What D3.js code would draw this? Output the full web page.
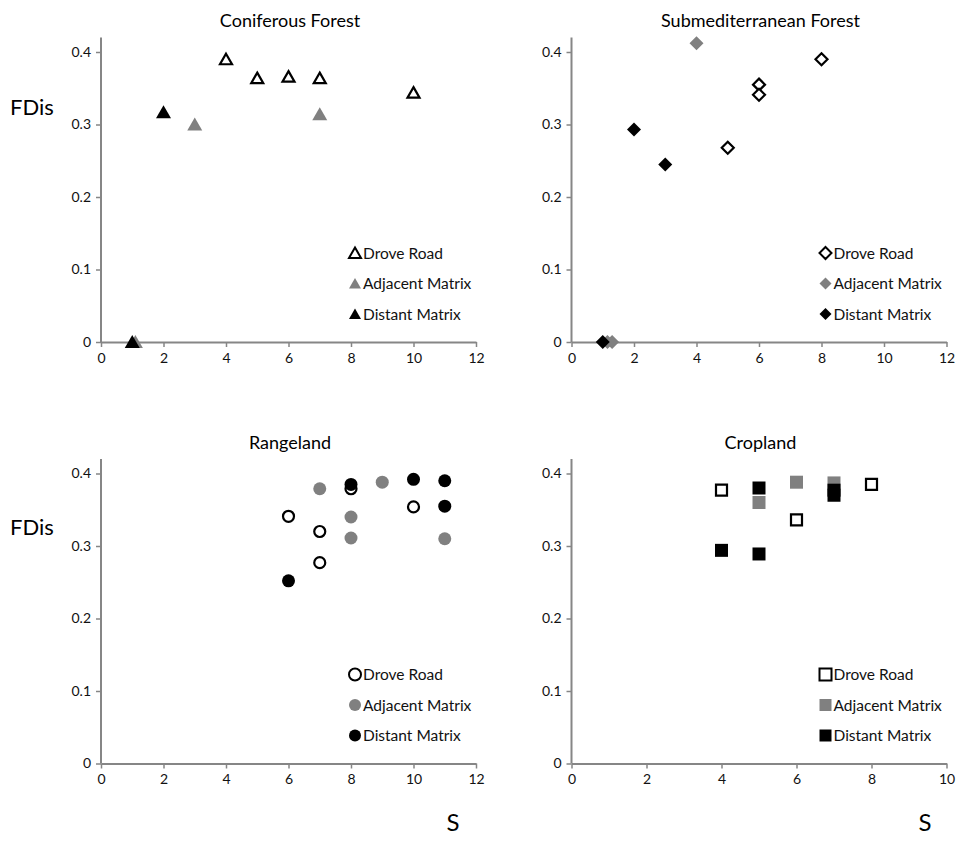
<!DOCTYPE html>
<html><head><meta charset="utf-8">
<script src="https://cdn.jsdelivr.net/npm/d3@7"></script>
<style>
body{margin:0;background:#fff;}
text{font-family:"Lato","Open Sans",sans-serif;}
</style></head>
<body><svg id="chart" width="963" height="841"></svg>
<script>
// ---- data ----
const panels = ["Coniferous Forest","Submediterranean Forest","Rangeland","Cropland"];
const seriesNames = ["Drove Road","Adjacent Matrix","Distant Matrix"];
const yTicks = [0,0.1,0.2,0.3,0.4];
const xTicksWide = [0,2,4,6,8,10,12];
const xTicksNarrow = [0,2,4,6,8,10];

// Coniferous Forest
const conDroveS = [4,5,6,7,10];
const conDroveF = [0.390,0.364,0.366,0.364,0.344];
const conAdjS = [1.1,3,7];
const conAdjF = [0,0.300,0.314];
const conDistS = [1,2];
const conDistF = [0,0.317];
// Submediterranean Forest
const subDroveS = [5,6,6,8];
const subDroveF = [0.268,0.355,0.341,0.390];
const subAdjS = [1.15,1.3,4];
const subAdjF = [0,0,0.412];
const subDistS = [1,2,3];
const subDistF = [0,0.293,0.245];
// Rangeland
const ranDroveS = [6,7,7,8,10];
const ranDroveF = [0.341,0.320,0.277,0.379,0.354];
const ranAdjS = [7,8,8,9,11];
const ranAdjF = [0.379,0.340,0.311,0.388,0.310];
const ranDistS = [6,8,10,11,11];
const ranDistF = [0.252,0.385,0.392,0.390,0.355];
// Cropland
const croDroveS = [4,6,8];
const croDroveF = [0.377,0.336,0.385];
const croAdjS = [5,6,7];
const croAdjF = [0.360,0.388,0.387];
const croDistS = [4,5,5,7,7];
const croDistF = [0.294,0.289,0.380,0.377,0.370];

const zip = (s,f)=>s.map((v,i)=>({s:v,f:f[i]}));
const panelData = [
  {title:panels[0], shape:"triangle", xMax:12, xTicks:xTicksWide,
   series:[zip(conDroveS,conDroveF),zip(conAdjS,conAdjF),zip(conDistS,conDistF)]},
  {title:panels[1], shape:"diamond", xMax:12, xTicks:xTicksWide,
   series:[zip(subDroveS,subDroveF),zip(subAdjS,subAdjF),zip(subDistS,subDistF)]},
  {title:panels[2], shape:"circle", xMax:12, xTicks:xTicksWide,
   series:[zip(ranDroveS,ranDroveF),zip(ranAdjS,ranAdjF),zip(ranDistS,ranDistF)]},
  {title:panels[3], shape:"square", xMax:10, xTicks:xTicksNarrow,
   series:[zip(croDroveS,croDroveF),zip(croAdjS,croAdjF),zip(croDistS,croDistF)]}
];

// ---- styling ----
const fills = ["#ffffff","#808080","#000000"];
const strokes = ["#000000","none","none"];
const axisColor = "#868686";

function shapePath(shape){
  switch(shape){
    case "triangle": return "M0,-7L7.5,6L-7.5,6Z";
    case "diamond": return "M0,-7L7,0L0,7L-7,0Z";
    case "circle": return "M6.5,0A6.5,6.5 0 1,1 -6.5,0A6.5,6.5 0 1,1 6.5,0Z";
    case "square": return "M-6.5,-6.5H6.5V6.5H-6.5Z";
  }
}
function shapePathOpen(shape){
  switch(shape){
    case "triangle": return "M0,-5.5L6,5L-6,5Z";
    case "diamond": return "M0,-6L6,0L0,6L-6,0Z";
    case "circle": return "M5.5,0A5.5,5.5 0 1,1 -5.5,0A5.5,5.5 0 1,1 5.5,0Z";
    case "square": return "M-5.5,-5.5H5.5V5.5H-5.5Z";
  }
}
function legendPath(shape){
  switch(shape){
    case "triangle": return "M0,-5.5L6,5L-6,5Z";
    case "diamond": return "M0,-6L6,0L0,6L-6,0Z";
    case "circle": return "M6,0A6,6 0 1,1 -6,0A6,6 0 1,1 6,0Z";
    case "square": return "M-6,-6H6V6H-6Z";
  }
}

const svg = d3.select("#chart");
const origins = [{x:101,y:342},{x:571.5,y:342},{x:101,y:763.5},{x:571.5,y:763.5}];
const plotW = 375, plotH0 = 290; // height for 0..0.4
const titleY = [27,27,449,449];

panelData.forEach((p,i)=>{
  const o = origins[i];
  const x = d3.scaleLinear().domain([0,p.xMax]).range([o.x,o.x+plotW]);
  const y = d3.scaleLinear().domain([0,0.4]).range([o.y,o.y-plotH0]);
  const g = svg.append("g");

  // y axis
  const ya = g.append("g").attr("transform",`translate(${o.x},0)`)
    .call(d3.axisLeft(y).tickValues(yTicks).tickSize(5).tickSizeOuter(0)
      .tickFormat(d=>d===0?"0":d3.format(".1f")(d)));
  ya.select(".domain").remove();
  ya.append("line").attr("x1",0).attr("x2",0).attr("y1",y(0)).attr("y2",y(0.42))
    .attr("stroke",axisColor).attr("stroke-width",2);
  ya.selectAll(".tick line").attr("stroke",axisColor).attr("stroke-width",1.5);
  ya.selectAll(".tick text").attr("x",-10).attr("fill","#111").style("font-size","14px")
    .style("font-family","Lato,sans-serif");

  // x axis
  const xa = g.append("g").attr("transform",`translate(0,${o.y})`)
    .call(d3.axisBottom(x).tickValues(p.xTicks).tickSize(5).tickSizeOuter(0));
  xa.select(".domain").attr("stroke",axisColor).attr("stroke-width",2);
  xa.selectAll(".tick line").attr("stroke",axisColor).attr("stroke-width",1.5);
  xa.selectAll(".tick text").attr("y",11).attr("fill","#111").style("font-size","14px")
    .style("font-family","Lato,sans-serif");

  // title
  g.append("text").attr("x",o.x+189).attr("y",titleY[i]).attr("text-anchor","middle")
    .style("font-size","18px").attr("fill","#000").text(p.title);

  // points
  p.series.forEach((ser,si)=>{
    g.append("g").selectAll("path").data(ser).join("path")
      .attr("transform",d=>`translate(${x(d.s)},${y(d.f)})`)
      .attr("d", si===0 ? shapePathOpen(p.shape) : shapePath(p.shape))
      .attr("fill",fills[si])
      .attr("stroke",strokes[si])
      .attr("stroke-width",si===0?2.2:0);
  });

  // legend
  const lx = o.x + 254, ly0 = o.y - 89;
  seriesNames.forEach((name,si)=>{
    const yy = ly0 + si*30.5;
    g.append("path").attr("transform",`translate(${lx},${yy})`)
      .attr("d",legendPath(p.shape))
      .attr("fill",fills[si]).attr("stroke",strokes[si]).attr("stroke-width",si===0?2:0);
    g.append("text").attr("x",lx+8).attr("y",yy+5.5).style("font-size","15.5px")
      .attr("fill","#111").text(name);
  });
});

// FDis labels
[107,527].forEach(yy=>{
  svg.append("text").attr("x",32).attr("y",yy+8).attr("text-anchor","middle")
    .style("font-size","22px").attr("fill","#000").text("FDis");
});
// S labels
[453,925].forEach(xx=>{
  svg.append("text").attr("x",xx).attr("y",831).attr("text-anchor","middle")
    .style("font-size","24px").attr("fill","#000").text("S");
});
</script></body></html>
